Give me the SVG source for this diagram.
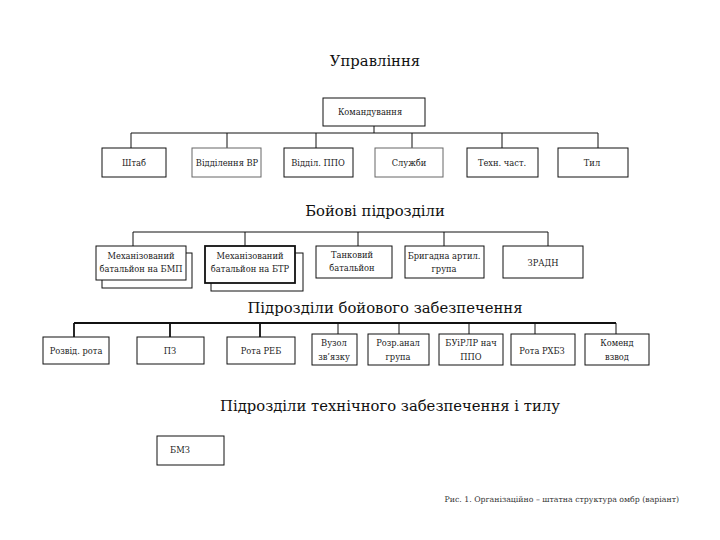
<svg xmlns="http://www.w3.org/2000/svg" width="720" height="540" viewBox="0 0 720 540">
<style>
.bg{fill:#fff}
.box{fill:#fff;stroke:#111;stroke-width:1}
.gbox{fill:#fff;stroke:#666;stroke-width:1}
.tbox{fill:#fff;stroke:#111;stroke-width:1.8}
text{font-family:"DejaVu Serif","Liberation Serif",serif}
.t{font-size:8.3px;fill:#222;text-anchor:middle}
.h{font-size:14.8px;fill:#111;text-anchor:middle}
.cap{font-size:7.8px;fill:#333;text-anchor:end}
.c{fill:none;stroke:#111;stroke-width:1}
.c2{fill:none;stroke:#111;stroke-width:1.8}
</style>
<rect class="bg" x="0" y="0" width="720" height="540"/>

<text class="h" x="375" y="66">Управління</text>
<text class="h" x="375" y="216">Бойові підрозділи</text>
<text class="h" x="385" y="313">Підрозділи бойового забезпечення</text>
<text class="h" x="390" y="411">Підрозділи технічного забезпечення і тилу</text>

<g id="connectors">
  <path class="c" d="M374 126V133M131 133H598M131 133V148M227 133V148M316 133V148M412 133V148M502 133V148M598 133V148"/>
  <path class="c" d="M133 232H548M133 232V246M245 232V246M358 232V246M444 232V246M548 232V246"/>
  <path class="c2" d="M74 323H616M74 323V337M170 323V337M260 323V337"/>
  <path class="c" d="M338 323V337M399 323V337M469 323V337M535 323V337M616 323V337"/>
</g>

<g id="n-komand"><rect class="box" x="323" y="98" width="102" height="28"/><text class="t" x="370" y="115">Командування</text></g>

<g id="n-shtab"><rect class="box" x="102" y="148" width="64" height="29"/><text class="t" x="134" y="166">Штаб</text></g>
<g id="n-vr"><rect class="gbox" x="192" y="148" width="69" height="29"/><text class="t" x="227" y="166">Відділення ВР</text></g>
<g id="n-ppo"><rect class="box" x="284" y="148" width="69" height="29"/><text class="t" x="318" y="166">Відділ. ППО</text></g>
<g id="n-sluzhby"><rect class="gbox" x="375" y="148" width="68" height="29"/><text class="t" x="409" y="166">Служби</text></g>
<g id="n-tekhn"><rect class="box" x="467" y="148" width="71" height="29"/><text class="t" x="502" y="166">Техн. част.</text></g>
<g id="n-tyl"><rect class="box" x="558" y="148" width="70" height="29"/><text class="t" x="592" y="166">Тил</text></g>

<g id="n-bmp"><rect class="box" x="102" y="253" width="90" height="35"/><rect class="box" x="96" y="246" width="90" height="34"/><text class="t" x="141" y="259">Механізований</text><text class="t" x="141" y="272">батальйон на БМП</text></g>
<g id="n-btr"><rect class="box" x="211" y="253" width="92" height="38"/><rect class="tbox" x="205" y="246" width="90" height="37"/><text class="t" x="250" y="259">Механізований</text><text class="t" x="250" y="272">батальйон на БТР</text></g>
<g id="n-tank"><rect class="box" x="316" y="246" width="76" height="32"/><text class="t" x="352" y="258">Танковий</text><text class="t" x="352" y="271">батальйон</text></g>
<g id="n-brig"><rect class="box" x="405" y="246" width="79" height="32"/><text class="t" x="444" y="259">Бригадна артил.</text><text class="t" x="444" y="272">група</text></g>
<g id="n-zradn"><rect class="box" x="503" y="246" width="80" height="32"/><text class="t" x="543" y="266">ЗРАДН</text></g>

<g id="n-rozvid"><rect class="box" x="43" y="337" width="66" height="27"/><text class="t" x="76" y="354">Розвід. рота</text></g>
<g id="n-pz"><rect class="box" x="137" y="337" width="67" height="27"/><text class="t" x="170" y="354">ПЗ</text></g>
<g id="n-reb"><rect class="box" x="227" y="337" width="68" height="27"/><text class="t" x="261" y="354">Рота РЕБ</text></g>
<g id="n-vuzol"><rect class="box" x="312" y="334" width="45" height="31"/><text class="t" x="334" y="346">Вузол</text><text class="t" x="334" y="360">зв’язку</text></g>
<g id="n-rozr"><rect class="box" x="368" y="334" width="61" height="31"/><text class="t" x="398" y="346">Розр.анал</text><text class="t" x="398" y="360">група</text></g>
<g id="n-buirlr"><rect class="box" x="439" y="334" width="64" height="31"/><text class="t" x="471" y="346">БУіРЛР нач</text><text class="t" x="471" y="360">ППО</text></g>
<g id="n-rkhbz"><rect class="box" x="511" y="334" width="64" height="31"/><text class="t" x="542" y="354">Рота РХБЗ</text></g>
<g id="n-komend"><rect class="box" x="585" y="334" width="64" height="31"/><text class="t" x="617" y="346">Коменд</text><text class="t" x="617" y="360">взвод</text></g>

<g id="n-bmz"><rect class="box" x="157" y="436" width="67" height="29"/><text class="t" x="180" y="453">БМЗ</text></g>

<text class="cap" x="679" y="502">Рис. 1. Організаційно – штатна структура омбр (варіант)</text>
</svg>
